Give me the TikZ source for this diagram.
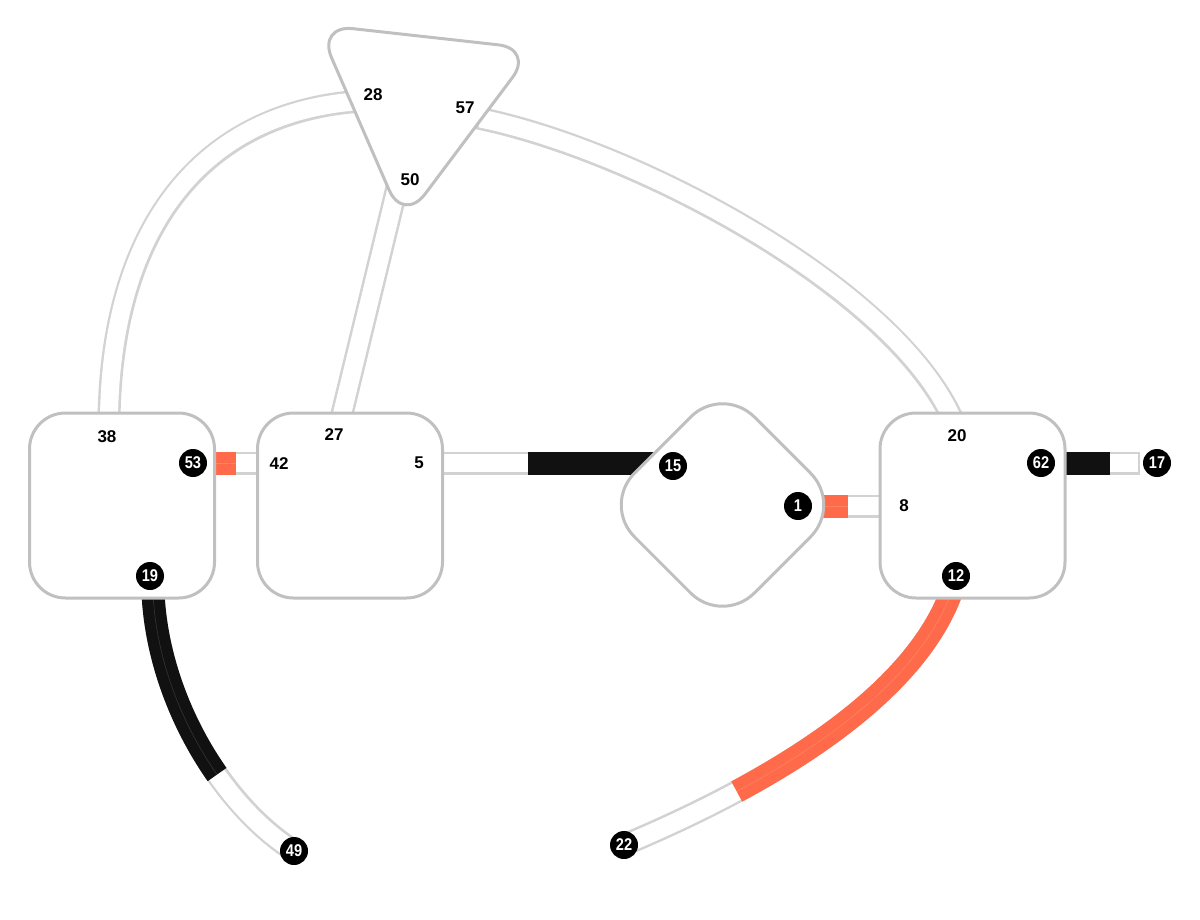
\documentclass[tikz,border=0pt]{standalone}
\usepackage{fontspec}
\setmainfont{Liberation Sans}
\usetikzlibrary{shapes.geometric,backgrounds}
\definecolor{tubegray}{RGB}{210,210,210}
\definecolor{nodegray}{RGB}{192,192,192}
\definecolor{ink}{RGB}{17,17,17}
\definecolor{coral}{RGB}{255,107,74}
\tikzset{
  tubeout/.style={draw=tubegray, line width=23pt},
  tubein/.style={draw=white, line width=18pt, shorten <=2.5pt, shorten >=2.5pt},
  fillpart/.style={line width=23pt},
  glint/.style={draw=white, opacity=.15, line width=.6pt},
  nodebox/.style={draw=nodegray, line width=3pt, fill=white, rounded corners=36pt,
    minimum width=185pt, minimum height=185pt, inner sep=0pt},
  diamondbox/.style={diamond, draw=nodegray, line width=3pt, fill=white, rounded corners=45pt,
    minimum width=241pt, minimum height=241pt, inner sep=0pt},
  trianglebox/.style={draw=nodegray, line width=3pt, fill=white, rounded corners=36pt},
  portlabel/.style={font=\fontsize{17}{17}\selectfont\bfseries, text=black, inner sep=0pt},
  portbadge/.style={circle, fill=black, text=white, minimum size=28pt, inner sep=0pt,
    font=\fontsize{17}{17}\selectfont\bfseries},
}
\newcommand{\nar}[1]{\scalebox{0.86}[1]{#1}}
\begin{document}
\begin{tikzpicture}[x=1pt,y=-1pt]
\useasboundingbox (0,0) rectangle (1200,920);
% ---- nodes ----
\node[nodebox] (A) at (122,505.5) {};
\node[nodebox] (B) at (350,505.5) {};
\node[nodebox] (D) at (972.5,505.5) {};
\node[diamondbox] (M) at (722.5,505) {};
\draw[trianglebox] (425.6,36.75) -- (534,48.8) -- (403.4,222.9) -- (317.2,24.7) -- cycle;
\coordinate (T) at (418,99);
% ---- ports ----
\coordinate (A38) at (109,418);
\coordinate (A53) at (210,463);
\coordinate (A19) at (153,593);
\coordinate (B27) at (341,418);
\coordinate (B42) at (263,463);
\coordinate (B5) at (437,463);
\coordinate (M15) at (680,463);
\coordinate (M1) at (818,506);
\coordinate (D8) at (885,506);
\coordinate (D20) at (952,418);
\coordinate (D62) at (1060,463);
\coordinate (D12) at (951,593);
\coordinate (T28) at (362,101);
\coordinate (T57) at (478,118);
\coordinate (T50) at (400,175);
\coordinate (E17) at (1140,463);
\coordinate (E49) at (294,851);
\coordinate (E22) at (624,845);
% ---- connectors ----
\begin{scope}[on background layer]
  % 38 -> 28
  \draw[tubeout] (A38) .. controls (112,230) and (200,112) .. (T28);
  \draw[tubein]  (A38) .. controls (112,230) and (200,112) .. (T28);
  % 57 -> 20
  \draw[tubeout] (T57) .. controls (635,150) and (890,285) .. (D20);
  \draw[tubein]  (T57) .. controls (635,150) and (890,285) .. (D20);
  % 50 -> 27
  \draw[tubeout] (T50) -- (B27);
  \draw[tubein]  (T50) -- (B27);
  % 53 -> 42
  \draw[tubeout] (A53) -- (B42);
  \draw[tubein]  (A53) -- (B42);
  \draw[fillpart, draw=coral, dash pattern=on 26pt off 2000pt] (A53) -- (B42);
  \draw[glint, dash pattern=on 26pt off 2000pt] (A53) -- (B42);
  % 5 -> 15
  \draw[tubeout] (B5) -- (M15);
  \draw[tubein]  (B5) -- (M15);
  \draw[fillpart, draw=ink, dash pattern=on 152pt off 2000pt] (M15) -- (B5);
  % 1 -> 8
  \draw[tubeout] (M1) -- (D8);
  \draw[tubein]  (M1) -- (D8);
  \draw[fillpart, draw=coral, dash pattern=on 30pt off 2000pt] (M1) -- (D8);
  \draw[glint, dash pattern=on 30pt off 2000pt] (M1) -- (D8);
  % 62 -> 17
  \draw[tubeout] (D62) -- (E17);
  \draw[tubein]  (D62) -- (E17);
  \draw[fillpart, draw=ink, dash pattern=on 50pt off 2000pt] (D62) -- (E17);
  % 19 -> 49
  \draw[tubeout] (A19) .. controls (158,700) and (222,805) .. (E49);
  \draw[tubein]  (A19) .. controls (158,700) and (222,805) .. (E49);
  \draw[fillpart, draw=ink, dash pattern=on 195pt off 2000pt] (A19) .. controls (158,700) and (222,805) .. (E49);
  \draw[glint, dash pattern=on 195pt off 2000pt] (A19) .. controls (158,700) and (222,805) .. (E49);
  % 12 -> 22
  \draw[tubeout] (D12) .. controls (915,690) and (790,775) .. (E22);
  \draw[tubein]  (D12) .. controls (915,690) and (790,775) .. (E22);
  \draw[fillpart, draw=coral, dash pattern=on 298pt off 2000pt] (D12) .. controls (915,690) and (790,775) .. (E22);
  \draw[glint, dash pattern=on 298pt off 2000pt] (D12) .. controls (915,690) and (790,775) .. (E22);
\end{scope}
% ---- labels ----
\node[portlabel] (l28) at (373,95) {28};
\node[portlabel] (l57) at (465,108) {57};
\node[portlabel] (l50) at (410,180) {50};
\node[portlabel] (l38) at (107,437) {38};
\node[portlabel] (l27) at (334,435) {27};
\node[portlabel] (l42) at (279,464) {42};
\node[portlabel] (l5) at (419,463) {5};
\node[portlabel] (l20) at (957,436) {20};
\node[portlabel] (l8) at (904,506) {8};
\node[portbadge] (b53) at (193,463) {\nar{53}};
\node[portbadge] (b19) at (150,576) {\nar{19}};
\node[portbadge] (b15) at (673,466) {\nar{15}};
\node[portbadge] (b1) at (798,506) {\nar{1}};
\node[portbadge] (b62) at (1041,463) {\nar{62}};
\node[portbadge] (b12) at (956,576) {\nar{12}};
\node[portbadge] (b17) at (1157,463) {\nar{17}};
\node[portbadge] (b49) at (294,851) {\nar{49}};
\node[portbadge] (b22) at (624,845) {\nar{22}};
\end{tikzpicture}
\end{document}
